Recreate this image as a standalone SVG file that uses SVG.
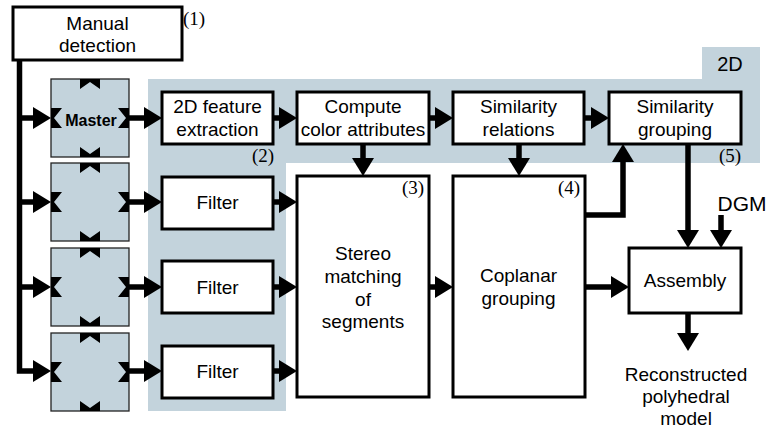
<svg xmlns="http://www.w3.org/2000/svg" width="770" height="432" viewBox="0 0 770 432">
  <style>
    .box { fill: #ffffff; stroke: #000000; stroke-width: 3; }
    .cam { fill: #c3d3dc; stroke: #222222; stroke-width: 1.3; }
    .port { fill: #000000; }
    .t { font-family: "Liberation Sans", Arial, sans-serif; font-size: 19px; fill: #000000; text-anchor: middle; }
    .tb { font-family: "Liberation Sans", Arial, sans-serif; font-size: 16px; font-weight: bold; fill: #000000; text-anchor: middle; }
    .num { font-family: "Liberation Serif", "Times New Roman", serif; font-size: 19px; fill: #000000; }
    .wire { fill: none; stroke: #000000; stroke-width: 5.5; stroke-linejoin: miter; }
  </style>
  <defs>
    <marker id="arrow" markerUnits="userSpaceOnUse" markerWidth="19" markerHeight="22" refX="0" refY="11" orient="auto" overflow="visible">
      <path d="M0,0 L18,11 L0,22 Z" fill="#000000"/>
    </marker>
    <!-- port notches drawn on each side of a camera tile -->
    <g id="ports">
      <path class="port" d="M29,0 H49 V10 L39,3 L29,10 Z"/>
      <path class="port" d="M29,68 L39,75 L49,68 V78 H29 Z"/>
      <path class="port" d="M0,29 H11 L3,39 L11,49 H0 Z"/>
      <path class="port" d="M78,29 H67 L75,39 L67,49 H78 Z"/>
    </g>
  </defs>

  <!-- shaded 2D processing region -->
  <path id="region-2d" d="M148,79 H702 V47 H760 V163 H286 V411 H148 Z" fill="#c3d3dc"/>
  <text class="t" x="730" y="71" style="font-size:20px">2D</text>

  <g id="manual-detection">
    <rect class="box" x="13" y="7" width="169" height="53"/>
    <text class="t" x="97.5" y="30">Manual</text>
    <text class="t" x="97.5" y="52">detection</text>
    <text class="num" x="183" y="25">(1)</text>
  </g>

  <g id="camera-master">
    <rect class="cam" x="51" y="79" width="78" height="78"/>
    <use href="#ports" x="51" y="79"/>
    <text class="tb" x="91" y="126">Master</text>
  </g>
  <g id="camera-2">
    <rect class="cam" x="51" y="163" width="78" height="78"/>
    <use href="#ports" x="51" y="163"/>
  </g>
  <g id="camera-3">
    <rect class="cam" x="51" y="248" width="78" height="78"/>
    <use href="#ports" x="51" y="248"/>
  </g>
  <g id="camera-4">
    <rect class="cam" x="51" y="333" width="78" height="78"/>
    <use href="#ports" x="51" y="333"/>
  </g>

  <g id="feature-extraction">
    <rect class="box" x="162" y="92" width="111" height="52"/>
    <text class="t" x="217.5" y="113">2D feature</text>
    <text class="t" x="217.5" y="136">extraction</text>
    <text class="num" x="252" y="162">(2)</text>
  </g>

  <g id="filter-1">
    <rect class="box" x="162" y="177" width="111" height="52"/>
    <text class="t" x="217.5" y="209">Filter</text>
  </g>
  <g id="filter-2">
    <rect class="box" x="162" y="261" width="111" height="52"/>
    <text class="t" x="217.5" y="294">Filter</text>
  </g>
  <g id="filter-3">
    <rect class="box" x="162" y="346" width="111" height="52"/>
    <text class="t" x="217.5" y="378">Filter</text>
  </g>

  <g id="color-attributes">
    <rect class="box" x="297" y="92" width="132" height="52"/>
    <text class="t" x="363" y="113">Compute</text>
    <text class="t" x="363" y="136">color attributes</text>
  </g>

  <g id="similarity-relations">
    <rect class="box" x="453" y="92" width="131" height="52"/>
    <text class="t" x="518.5" y="113">Similarity</text>
    <text class="t" x="518.5" y="136">relations</text>
  </g>

  <g id="similarity-grouping">
    <rect class="box" x="609" y="92" width="132" height="52"/>
    <text class="t" x="675" y="113">Similarity</text>
    <text class="t" x="675" y="136">grouping</text>
    <text class="num" x="719" y="162">(5)</text>
  </g>

  <g id="stereo-matching">
    <rect class="box" x="297" y="176" width="132" height="221"/>
    <text class="t" x="363" y="260">Stereo</text>
    <text class="t" x="363" y="282.5">matching</text>
    <text class="t" x="363" y="305.5">of</text>
    <text class="t" x="363" y="328">segments</text>
    <text class="num" x="402" y="194">(3)</text>
  </g>

  <g id="coplanar-grouping">
    <rect class="box" x="453" y="176" width="132" height="221"/>
    <text class="t" x="518.5" y="282">Coplanar</text>
    <text class="t" x="518.5" y="305">grouping</text>
    <text class="num" x="558" y="194">(4)</text>
  </g>

  <g id="assembly">
    <rect class="box" x="629" y="248" width="112" height="65"/>
    <text class="t" x="685" y="287">Assembly</text>
  </g>

  <g id="dgm">
    <text class="t" x="742" y="211" style="font-size:21px">DGM</text>
  </g>

  <g id="model">
    <text class="t" x="686" y="380.5">Reconstructed</text>
    <text class="t" x="686" y="402.5">polyhedral</text>
    <text class="t" x="686" y="424.5">model</text>
  </g>

  <g id="connectors" class="wire">
    <path class="wire" d="M19.5,60 V371 H33" marker-end="url(#arrow)"/>
    <path class="wire" d="M19.5,118 H33" marker-end="url(#arrow)"/>
    <path class="wire" d="M19.5,202 H33" marker-end="url(#arrow)"/>
    <path class="wire" d="M19.5,287 H33" marker-end="url(#arrow)"/>

    <path class="wire" d="M129,118 H144" marker-end="url(#arrow)"/>
    <path class="wire" d="M129,202 H144" marker-end="url(#arrow)"/>
    <path class="wire" d="M129,287 H144" marker-end="url(#arrow)"/>
    <path class="wire" d="M129,371 H144" marker-end="url(#arrow)"/>

    <path class="wire" d="M273,118 H279" marker-end="url(#arrow)"/>
    <path class="wire" d="M429,118 H435" marker-end="url(#arrow)"/>
    <path class="wire" d="M584,118 H591" marker-end="url(#arrow)"/>

    <path class="wire" d="M273,202 H279" marker-end="url(#arrow)"/>
    <path class="wire" d="M273,287 H279" marker-end="url(#arrow)"/>
    <path class="wire" d="M273,371 H279" marker-end="url(#arrow)"/>

    <path class="wire" d="M363,144 V158" marker-end="url(#arrow)"/>
    <path class="wire" d="M519,144 V158" marker-end="url(#arrow)"/>

    <path class="wire" d="M429,287 H435" marker-end="url(#arrow)"/>
    <path class="wire" d="M585,287 H611" marker-end="url(#arrow)"/>
    <path class="wire" d="M585,215 H623 V162" marker-end="url(#arrow)"/>

    <path class="wire" d="M688,144 V230" marker-end="url(#arrow)"/>
    <path class="wire" d="M721,215 V230" marker-end="url(#arrow)"/>
    <path class="wire" d="M688,313 V333" marker-end="url(#arrow)"/>
  </g>
</svg>
